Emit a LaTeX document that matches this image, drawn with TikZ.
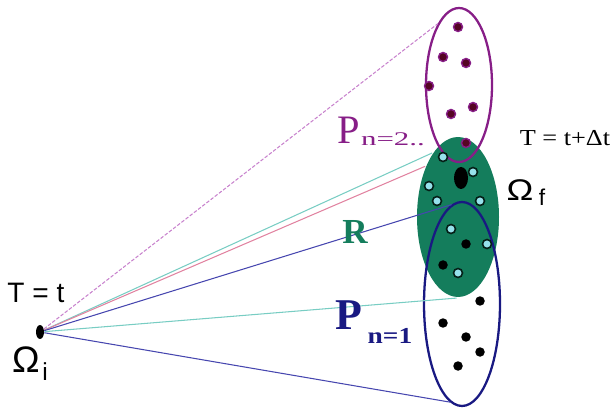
\documentclass[tikz,border=0pt]{standalone}
\usepackage{fontspec}
\setmainfont{Liberation Serif}
\newfontfamily\helv{Liberation Sans}
\usetikzlibrary{shapes.geometric}
\definecolor{pcol}{RGB}{135,30,135}
\definecolor{pdk}{RGB}{85,5,35}
\definecolor{rcol}{RGB}{20,125,92}
\definecolor{ncol}{RGB}{25,25,130}
\definecolor{cdot}{RGB}{150,225,235}
\definecolor{mline}{RGB}{200,130,205}
\definecolor{tline}{RGB}{120,205,195}
\definecolor{kline}{RGB}{225,130,160}
\definecolor{bline}{RGB}{70,70,175}
\newcommand{\FS}[1]{\fontsize{#1}{#1}\selectfont}
\newcommand{\Pd}[2]{\filldraw[fill=pdk, draw=pcol, line width=0.8pt] (#1,#2) circle[radius=0.09cm];}
\newcommand{\Cd}[2]{\filldraw[fill=cdot, draw=black!75!rcol, line width=0.9pt] (#1,#2) circle[radius=0.09cm];}
\newcommand{\Kd}[2]{\fill[black] (#1,#2) circle[radius=0.095cm];}

\begin{document}
\begin{tikzpicture}[x=0.02cm, y=-0.02cm,
    Ell/.style={ellipse, inner sep=0pt, line width=1.3pt},
    lnk/.style={line width=0.6pt},
    sflab/.style={font=\helv\FS{16}, inner sep=0pt},
    omg/.style={font=\helv\FS{21}, inner sep=0pt},
    lab/.style={inner sep=0pt},
  ]
  \useasboundingbox (0,0) rectangle (614,411);

  %% ================= the three regions at T = t+Dt =================
  \node[Ell, fill=rcol, minimum width=1.64cm, minimum height=3.2cm] (rg) at (458,217) {};
  \node[Ell, draw=pcol, minimum width=1.32cm, minimum height=3.08cm] (pn2) at (459,85) {};
  \node[Ell, draw=ncol, minimum width=1.52cm, minimum height=4.08cm] (pn1) at (462,304) {};

  % start and end points
  \node[ellipse, fill=black, inner sep=0pt, minimum width=0.16cm, minimum height=0.28cm] (oi) at (40,332) {};
  \node[ellipse, fill=black, inner sep=0pt, minimum width=0.28cm, minimum height=0.44cm] (of) at (461,178) {};

  %% ================= the paths from Omega_i =================
  \draw[lnk, mline, dash pattern=on 2pt off 1pt] (oi) -- (pn2.109);
  \draw[lnk, tline] (oi) -- (rg.112);
  \draw[lnk, kline] (oi) -- (rg.123);
  \draw[lnk, bline] (oi) -- (pn1.96);
  \draw[lnk, tline] (oi) -- (rg.-91);
  \draw[lnk, bline] (oi) -- (pn1.-97);

  %% ================= the states inside the regions =================
  \foreach \x/\y in {458/27, 443/57, 466/63, 429/86, 473/107, 451/114, 466/143} { \Pd{\x}{\y} }
  \foreach \x/\y in {443/157, 473/172, 429/186, 437/201, 480/201, 451/229, 487/244, 458/273} { \Cd{\x}{\y} }
  \foreach \x/\y in {466/244, 443/265, 480/301, 443/323, 466/337, 480/352, 458/366} { \Kd{\x}{\y} }

  %% ================= labels =================
  \node[sflab] (ti) at (36,293) {T = t};
  \node[omg] (omi) at (26,360) {Ω};
  \node[lab, font=\helv\FS{14}] (omis) at (45,372) {i};
  \node[lab, font=\FS{13}] (tf) at (565,138) {\scalebox{1.15}[1]{T = t+Δt}};
  \node[lab, font=\helv\FS{17}] (omf) at (520,190) {\scalebox{1.2}[1]{Ω}};
  \node[lab, font=\helv\FS{13}] (omfs) at (542,197) {f};

  \node[lab, text=pcol, font=\FS{23}] (p2) at (349,130) {P};
  \node[lab, text=pcol, font=\FS{11}] (p2s) at (393,139) {\scalebox{1.6}[1]{n=2..}};
  \node[lab, text=rcol, font=\bfseries\FS{20}] (r) at (355,232) {R};
  \node[lab, text=ncol, font=\bfseries\FS{25}] (p1) at (349,315) {P};
  \node[lab, text=ncol, font=\bfseries\FS{13}] (p1s) at (390,336) {\scalebox{1.2}[1]{n=1}};

\end{tikzpicture}
\end{document}
